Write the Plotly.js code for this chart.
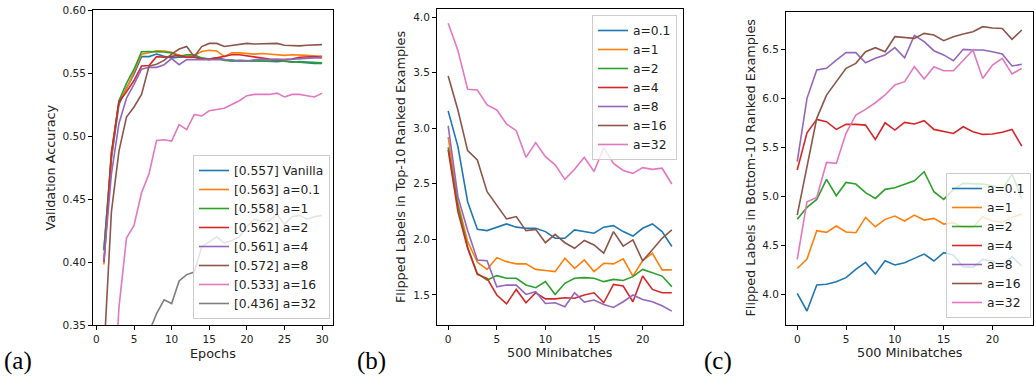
<!DOCTYPE html>
<html>
<head>
<meta charset="utf-8">
<script src="https://cdn.plot.ly/plotly-3.0.1.min.js"></script>
<style>html,body{margin:0;padding:0;background:#fff;}#chart{width:1036px;height:377px;}</style>
</head>
<body>
<div id="chart"></div>
<script>
// ---------- Panel (a): validation accuracy per epoch ----------
const epochs = [1,2,3,4,5,6,7,8,9,10,11,12,13,14,15,16,17,18,19,20,21,22,23,24,25,26,27,28,29,30];
const accVanilla = [0.410,0.482,0.525,0.538,0.549,0.563,0.563,0.565,0.5632,0.562,0.5625,0.5625,0.563,0.5615,0.5605,0.562,0.5605,0.5595,0.560,0.5595,0.5595,0.5595,0.559,0.559,0.5595,0.559,0.558,0.5575,0.5575,0.5575];
const accA01 = [0.398,0.484,0.528,0.537,0.551,0.565,0.566,0.5677,0.5675,0.5665,0.564,0.5635,0.564,0.567,0.568,0.5675,0.563,0.566,0.566,0.5655,0.565,0.5655,0.565,0.564,0.564,0.5645,0.5645,0.564,0.5635,0.5635];
const accA1 = [0.409,0.486,0.528,0.5417,0.553,0.5669,0.567,0.567,0.5667,0.566,0.563,0.5645,0.5645,0.562,0.561,0.562,0.560,0.5595,0.5595,0.5595,0.559,0.5595,0.5595,0.560,0.559,0.5585,0.559,0.5585,0.558,0.558];
const accA2 = [0.400,0.487,0.527,0.535,0.544,0.5555,0.556,0.563,0.5625,0.563,0.564,0.5625,0.5625,0.561,0.561,0.562,0.5635,0.5645,0.5645,0.5635,0.5625,0.5615,0.561,0.5605,0.561,0.561,0.5625,0.563,0.563,0.5625];
const accA4 = [0.401,0.470,0.510,0.530,0.541,0.553,0.5545,0.5545,0.5566,0.5614,0.5566,0.5606,0.5606,0.5606,0.5605,0.561,0.5605,0.5605,0.5595,0.5595,0.5605,0.561,0.5605,0.561,0.5605,0.561,0.561,0.5615,0.562,0.562];
const accA8 = [0.327,0.440,0.488,0.515,0.523,0.533,0.5555,0.557,0.560,0.565,0.569,0.571,0.5630,0.571,0.5735,0.5735,0.571,0.572,0.573,0.5735,0.573,0.573,0.573,0.5735,0.572,0.5715,0.5715,0.572,0.5725,0.5725];
const accA16 = [0.180,0.260,0.364,0.419,0.429,0.455,0.470,0.4965,0.497,0.496,0.509,0.505,0.517,0.516,0.520,0.521,0.522,0.525,0.528,0.532,0.533,0.533,0.533,0.534,0.531,0.533,0.533,0.532,0.531,0.534];
const accA32 = [0.200,0.250,0.280,0.300,0.320,0.330,0.345,0.359,0.370,0.367,0.385,0.390,0.392,0.412,0.416,0.420,0.415,0.417,0.420,0.428,0.434,0.432,0.433,0.438,0.430,0.436,0.437,0.434,0.436,0.437];
const namesA = ["[0.557] Vanilla","[0.563] a=0.1","[0.558] a=1","[0.562] a=2","[0.561] a=4","[0.572] a=8","[0.533] a=16","[0.436] a=32"];

// ---------- Panels (b) and (c): flipped labels per 500 minibatches ----------
const minibatches = [0,1,2,3,4,5,6,7,8,9,10,11,12,13,14,15,16,17,18,19,20,21,22,23];
const namesBC = ["a=0.1","a=1","a=2","a=4","a=8","a=16","a=32"];

const topA01 = [3.155,2.834,2.339,2.09,2.079,2.11,2.139,2.11,2.10,2.10,2.07,2.01,2.01,2.085,2.07,2.055,2.11,2.124,2.07,2.03,2.10,2.139,2.07,1.936];
const topA1  = [2.92,2.33,1.98,1.795,1.73,1.836,1.80,1.78,1.78,1.73,1.72,1.71,1.83,1.74,1.815,1.71,1.785,1.78,1.825,1.67,1.81,1.875,1.726,1.726];
const topA2  = [2.828,2.30,1.93,1.694,1.635,1.674,1.65,1.65,1.59,1.565,1.62,1.505,1.605,1.65,1.656,1.65,1.62,1.64,1.63,1.665,1.73,1.70,1.67,1.575];
const topA4  = [2.804,2.25,1.92,1.685,1.65,1.50,1.42,1.55,1.43,1.52,1.465,1.465,1.475,1.47,1.50,1.52,1.43,1.595,1.58,1.439,1.67,1.55,1.52,1.52];
const topA8  = [3.02,2.384,2.08,1.815,1.808,1.574,1.589,1.589,1.505,1.53,1.424,1.43,1.395,1.52,1.436,1.454,1.415,1.388,1.439,1.50,1.46,1.439,1.403,1.355];
const topA16 = [3.469,3.164,2.798,2.714,2.429,2.309,2.184,2.205,2.079,2.09,1.97,2.045,1.97,1.92,1.99,1.95,1.876,2.07,1.94,1.995,1.807,1.906,2.01,2.085];
const topA32 = [3.943,3.70,3.35,3.344,3.209,3.164,3.038,2.978,2.738,2.87,2.744,2.67,2.54,2.63,2.738,2.61,2.825,2.684,2.62,2.594,2.645,2.63,2.64,2.498];

const botA01 = [4.007,3.827,4.092,4.099,4.126,4.167,4.252,4.323,4.204,4.34,4.296,4.32,4.364,4.408,4.337,4.422,4.398,4.279,4.272,4.354,4.337,4.286,4.381,4.286];
const botA1  = [4.26,4.357,4.646,4.629,4.694,4.633,4.626,4.782,4.687,4.762,4.796,4.745,4.806,4.755,4.772,4.714,4.728,4.68,4.68,4.789,4.745,4.731,4.782,4.816];
const botA2  = [4.762,4.884,4.966,5.17,5.003,5.139,5.122,5.034,4.976,5.068,5.085,5.122,5.156,5.248,5.044,4.966,5.068,5.129,5.129,5.122,5.105,5.068,5.224,4.976];
const botA4  = [5.265,5.646,5.782,5.759,5.68,5.731,5.731,5.724,5.578,5.748,5.673,5.752,5.735,5.769,5.68,5.656,5.639,5.707,5.656,5.629,5.633,5.65,5.68,5.51];
const botA8  = [5.35,5.997,6.286,6.303,6.388,6.463,6.463,6.36,6.405,6.44,6.514,6.41,6.64,6.575,6.483,6.44,6.38,6.497,6.49,6.49,6.473,6.45,6.327,6.344];
const botA16 = [4.806,5.30,5.793,6.03,6.167,6.303,6.354,6.473,6.514,6.473,6.626,6.62,6.609,6.66,6.643,6.585,6.626,6.653,6.677,6.728,6.714,6.71,6.599,6.694];
const botA32 = [4.354,4.942,4.986,5.343,5.333,5.64,5.827,5.884,5.952,6.031,6.133,6.167,6.32,6.194,6.32,6.279,6.279,6.381,6.49,6.20,6.337,6.405,6.245,6.303];

const colors = ["#1f77b4","#ff7f0e","#2ca02c","#d62728","#9467bd","#8c564b","#e377c2","#7f7f7f"];
const seriesA = [accVanilla,accA01,accA1,accA2,accA4,accA8,accA16,accA32];
const seriesB = [topA01,topA1,topA2,topA4,topA8,topA16,topA32];
const seriesC = [botA01,botA1,botA2,botA4,botA8,botA16,botA32];

const LW = 1.6;
const traces = [];
seriesA.forEach((ys,i)=>traces.push({x:epochs,y:ys,type:'scatter',mode:'lines',name:namesA[i],line:{color:colors[i],width:LW},xaxis:'x',yaxis:'y',legend:'legend'}));
seriesB.forEach((ys,i)=>traces.push({x:minibatches,y:ys,type:'scatter',mode:'lines',name:namesBC[i],line:{color:colors[i],width:LW},xaxis:'x2',yaxis:'y2',legend:'legend2'}));
seriesC.forEach((ys,i)=>traces.push({x:minibatches,y:ys,type:'scatter',mode:'lines',name:namesBC[i],line:{color:colors[i],width:LW},xaxis:'x3',yaxis:'y3',legend:'legend3'}));

const W = 1036, H = 377;
const px = v => v / W;
const py = v => (H - v) / H;
const tickFont = {family:'DejaVu Sans', size:10.5, color:'#222'};
const labFont = {family:'DejaVu Sans', size:12.8, color:'#222'};
const axBase = {showline:true, mirror:true, linecolor:'#000', linewidth:1, ticks:'outside', ticklen:4, tickwidth:1, tickcolor:'#000', showgrid:false, zeroline:false, tickfont:tickFont, fixedrange:true};
const legBase = {bgcolor:'rgba(255,255,255,0.8)', bordercolor:'#cccccc', borderwidth:1, font:{family:'DejaVu Sans', size:12.3, color:'#222'}, tracegroupgap:0};

const layout = {
  width:W, height:H, margin:{l:0,r:0,t:0,b:0}, paper_bgcolor:'#fff', plot_bgcolor:'#fff',
  xaxis: Object.assign({}, axBase, {domain:[px(93),px(333)], range:[-0.45,31.45], tickvals:[0,5,10,15,20,25,30], anchor:'y'}),
  yaxis: Object.assign({}, axBase, {domain:[py(325),py(10)], range:[0.35,0.60], tickvals:[0.35,0.40,0.45,0.50,0.55,0.60], tickformat:'.2f', anchor:'x'}),
  xaxis2: Object.assign({}, axBase, {domain:[px(437),px(683)], range:[-1.15,24.15], tickvals:[0,5,10,15,20], anchor:'y2'}),
  yaxis2: Object.assign({}, axBase, {domain:[py(325),py(9)], range:[1.23,4.072], tickvals:[1.5,2.0,2.5,3.0,3.5,4.0], tickformat:'.1f', anchor:'x2'}),
  xaxis3: Object.assign({}, axBase, {domain:[px(786),px(1033)], range:[-1.15,24.15], tickvals:[0,5,10,15,20], anchor:'y3'}),
  yaxis3: Object.assign({}, axBase, {domain:[py(325),py(12)], range:[3.684,6.878], tickvals:[4.0,4.5,5.0,5.5,6.0,6.5], tickformat:'.1f', anchor:'x3'}),
  legend: Object.assign({}, legBase, {x:px(330), y:py(319), xanchor:'right', yanchor:'bottom'}),
  legend2: Object.assign({}, legBase, {x:px(677), y:py(15), xanchor:'right', yanchor:'top'}),
  legend3: Object.assign({}, legBase, {x:px(1031), y:py(318), xanchor:'right', yanchor:'bottom'}),
  showlegend:true,
  annotations:[
    {text:'Validation Accuracy', x:px(50), y:py(167.5), textangle:-90, font:labFont},
    {text:'Flipped Labels in Top-10 Ranked Examples', x:px(400), y:py(167), textangle:-90, font:labFont},
    {text:'Flipped Labels in Bottom-10 Ranked Examples', x:px(750), y:py(167.5), textangle:-90, font:labFont},
    {text:'Epochs', x:px(213), y:py(353), font:labFont},
    {text:'500 Minibatches', x:px(560), y:py(352), font:labFont},
    {text:'500 Minibatches', x:px(910), y:py(352), font:labFont},
    {text:'(a)', x:px(18), y:py(361), font:{family:'Liberation Serif', size:25, color:'#000'}},
    {text:'(b)', x:px(371), y:py(361), font:{family:'Liberation Serif', size:25, color:'#000'}},
    {text:'(c)', x:px(718), y:py(361), font:{family:'Liberation Serif', size:25, color:'#000'}}
  ].map(a=>Object.assign({xref:'paper', yref:'paper', xanchor:'center', yanchor:'middle', showarrow:false}, a))
};

Plotly.newPlot('chart', traces, layout, {displayModeBar:false, staticPlot:true});
</script>
</body>
</html>
